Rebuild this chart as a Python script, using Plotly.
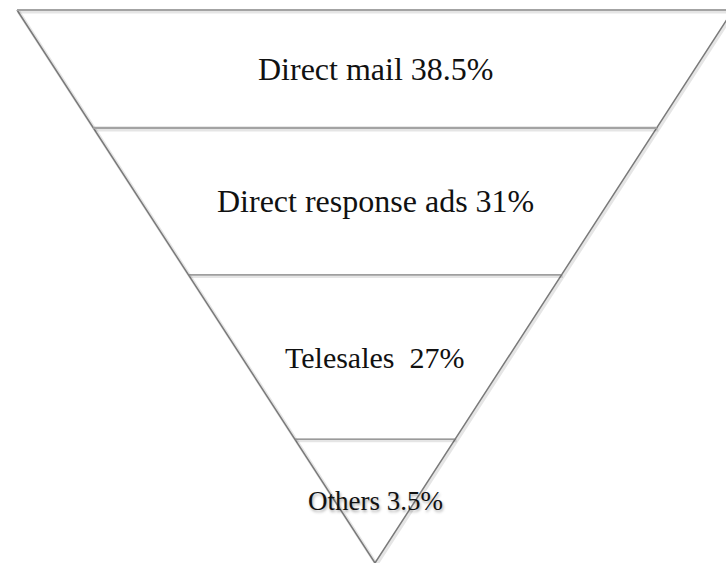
import plotly.graph_objects as go

# Marketing channel shares, shown as an inverted pyramid
channels = ["Direct mail", "Direct response ads", "Telesales", "Others"]
shares = [38.5, 31, 27, 3.5]
label_text = ["Direct mail 38.5%", "Direct response ads 31%", "Telesales  27%", "Others 3.5%"]

# Relative depth of each band, top to bottom (sums to 1)
band_depth = [0.213, 0.266, 0.297, 0.224]
label_size = [32, 32, 30, 27]

W, H = 726, 563
# Axis ranges: pyramid spans x in [-1, 1] at depth 0 and meets at (0, 1)
px_x = 358.0   # pixels per x unit
px_y = 553.0   # pixels per depth unit
cx, top = 375.0, 10.0
x_range = [-cx / px_x, (W - cx) / px_x]
y_range = [(H - top) / px_y, -top / px_y]

edge_color = "#808080"
shadow_color = "rgba(0,0,0,0.10)"
sx, sy = 1.5 / px_x, 1.5 / px_y

fig = go.Figure()

# cumulative boundaries between bands
bounds = [0.0]
for d in band_depth:
    bounds.append(bounds[-1] + d)


def add_line(xs, ys, color, width):
    # soft drop shadow under every edge
    fig.add_trace(go.Scatter(x=[v + sx for v in xs], y=[v + sy for v in ys], mode="lines",
                             line=dict(color=shadow_color, width=width + 2),
                             hoverinfo="skip", showlegend=False))
    fig.add_trace(go.Scatter(x=xs, y=ys, mode="lines",
                             line=dict(color=color, width=width),
                             hoverinfo="skip", showlegend=False))


# sloping sides
add_line([-1, 0, 1], [0, 1, 0], "#7a7a7a", 1.5)
# top edge and horizontal dividers
for i, b in enumerate(bounds[:-1]):
    half = 1 - b
    col = "#a3a3a3" if i < 2 else edge_color
    wid = 2.2 if i < 2 else 1.4
    add_line([-half, half], [b, b], col, wid)

# band labels, centred in each band
for i, (name, val) in enumerate(zip(channels, shares)):
    mid = (bounds[i] + bounds[i + 1]) / 2
    font = dict(family="Liberation Serif, Times New Roman, serif", size=label_size[i], color="#111111")
    if i == len(channels) - 1:
        font["shadow"] = "1px 2px 3px rgba(0,0,0,0.35)"
    fig.add_annotation(x=0, y=mid, text=label_text[i], showarrow=False,
                       xanchor="center", yanchor="middle", font=font)

fig.update_layout(
    width=W, height=H,
    margin=dict(l=0, r=0, t=0, b=0),
    paper_bgcolor="white", plot_bgcolor="white",
    xaxis=dict(range=x_range, visible=False, fixedrange=True),
    yaxis=dict(range=y_range, visible=False, fixedrange=True),
    showlegend=False,
)

fig.write_html("out.html")
